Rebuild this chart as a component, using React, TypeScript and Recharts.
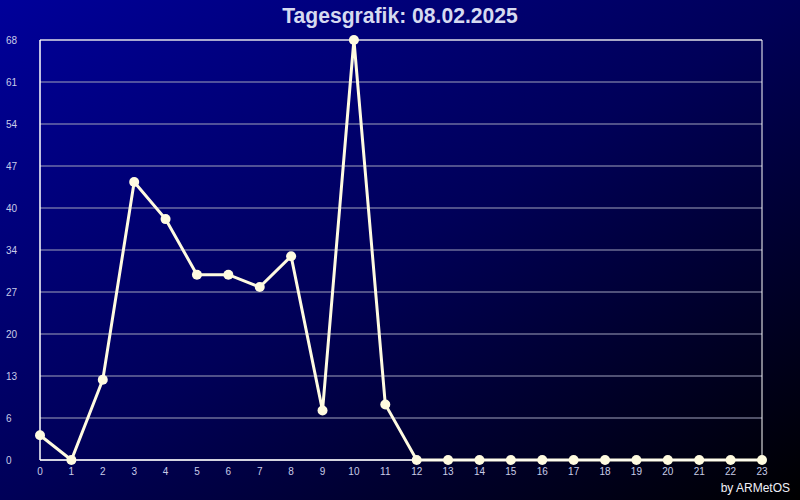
import { CartesianGrid, Line, LineChart, ReferenceArea, XAxis, YAxis } from "recharts";

// Hourly values, 08.02.2025
const hours: number[] = [0, 1, 2, 3, 4, 5, 6, 7, 8, 9, 10, 11, 12, 13, 14, 15, 16, 17, 18, 19, 20, 21, 22, 23];
const values: number[] = [4, 0, 13, 45, 39, 30, 30, 28, 33, 8, 68, 9, 0, 0, 0, 0, 0, 0, 0, 0, 0, 0, 0, 0];

// y grid positions (max / 10 steps) and the labels shown for them
const yTicks: number[] = [0, 6.8, 13.6, 20.4, 27.2, 34, 40.8, 47.6, 54.4, 61.2, 68];
const yTickLabels: string[] = ["0", "6", "13", "20", "27", "34", "40", "47", "54", "61", "68"];

const chartData = hours.map((h, i) => ({ hour: h, value: values[i] }));

const labelColor = "#c8cce8";

const YTick = (props: any) => {
  const { y, payload, index } = props;
  return (
    <text x={6} y={y} dy={4} fill={labelColor} fontSize={10} textAnchor="start">
      {yTickLabels[index] ?? String(Math.floor(payload.value))}
    </text>
  );
};

export default function App() {
  return (
    <div
      style={{
        position: "absolute",
        left: 0,
        top: 0,
        width: 800,
        height: 500,
        background: "linear-gradient(to bottom right, #00009a 0%, #000058 50%, #000000 100%)",
        fontFamily: "'Liberation Sans', Arial, sans-serif",
      }}
    >
      <div
        style={{
          position: "absolute",
          top: 3,
          width: 800,
          textAlign: "center",
          color: "#d6daf0",
          fontWeight: 700,
          fontSize: 22,
          transform: "scaleX(0.96)",
        }}
      >
        Tagesgrafik: 08.02.2025
      </div>
      <LineChart
        width={800}
        height={500}
        data={chartData}
        margin={{ top: 40, right: 38, bottom: 10, left: 0 }}
        style={{ position: "absolute", left: 0, top: 0 }}
      >
        <CartesianGrid vertical={false} stroke="#a0a2bc" strokeWidth={1} />
        <XAxis
          dataKey="hour"
          type="number"
          height={30}
          domain={[0, 23]}
          ticks={hours}
          interval={0}
          tickLine={false}
          axisLine={{ stroke: "#ffffff", strokeWidth: 1 }}
          tick={{ fill: labelColor, fontSize: 10 }}
          tickMargin={2}
        />
        <YAxis
          width={40}
          domain={[0, 68]}
          ticks={yTicks}
          interval={0}
          tickLine={false}
          axisLine={{ stroke: "#ffffff", strokeWidth: 1 }}
          tick={<YTick />}
        />
        <ReferenceArea x1={0} x2={23} y1={0} y2={68} stroke="#ffffff" strokeWidth={1} fill="none" fillOpacity={0} />
        <Line
          type="linear"
          dataKey="value"
          stroke="#fffbe0"
          strokeWidth={3}
          dot={{ r: 5, fill: "#fffbe0", stroke: "none" }}
          activeDot={false}
          isAnimationActive={false}
        />
      </LineChart>
      <div
        style={{
          position: "absolute",
          right: 10,
          bottom: 5,
          color: "#f0f0f8",
          fontSize: 12,
        }}
      >
        by ARMetOS
      </div>
    </div>
  );
}
